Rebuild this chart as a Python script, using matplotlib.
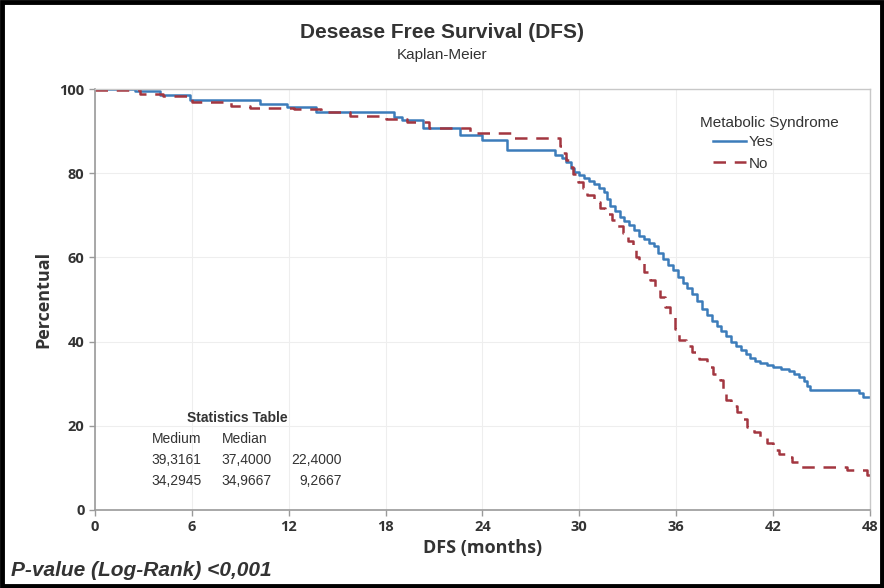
import matplotlib
matplotlib.use("Agg")
import matplotlib.pyplot as plt
from matplotlib.patches import Rectangle

# Kaplan-Meier step estimates (months, % disease free)
yes_t = [0, 2.5, 4.0, 5.9, 10.2, 11.9, 13.7, 18.5, 19.0, 20.3, 22.6, 24.0, 25.5,
         28.5, 28.9, 29.2, 29.5, 29.7, 30.0, 30.3, 30.6, 30.9, 31.2, 31.5, 31.7,
         31.9, 32.2, 32.5, 32.8, 33.1, 33.4, 33.7, 34.0, 34.3, 34.6, 34.9, 35.2,
         35.5, 35.8, 36.1, 36.4, 36.7, 37.0, 37.3, 37.6, 37.9, 38.2, 38.5, 38.8,
         39.1, 39.4, 39.7, 40.0, 40.3, 40.6, 40.9, 41.2, 41.6, 42.0, 42.5, 43.0,
         43.3, 43.6, 43.9, 44.1, 44.3, 47.3, 47.6, 48.0]
yes_s = [100, 99.5, 98.5, 97.4, 96.4, 95.7, 94.5, 93.4, 92.6, 90.7, 89.0, 87.9, 85.5,
         84.3, 83.6, 82.7, 81.2, 80.3, 79.6, 78.9, 78.2, 77.4, 76.6, 75.6, 73.8,
         72.2, 71.0, 69.6, 68.6, 67.6, 66.5, 65.0, 64.3, 63.5, 62.6, 61.0, 59.6,
         58.3, 57.0, 55.4, 53.9, 52.7, 51.4, 49.6, 47.8, 46.3, 44.9, 43.8, 42.6,
         41.3, 40.0, 38.9, 37.9, 37.0, 36.2, 35.5, 35.0, 34.5, 34.0, 33.6, 33.0,
         32.3, 31.5, 30.6, 29.5, 28.5, 27.7, 26.8, 26.8]

no_t = [0, 2.8, 4.2, 6.0, 8.4, 9.6, 12.3, 14.0, 15.8, 18.0, 19.3, 20.7, 23.2,
        25.9, 28.8, 29.0, 29.2, 29.4, 29.6, 29.9, 30.2, 30.5, 30.9, 31.3, 31.6,
        32.0, 32.3, 32.7, 33.0, 33.3, 33.5, 33.7, 34.0, 34.4, 34.7, 35.0, 35.3,
        35.6, 35.9, 36.2, 36.6, 37.0, 37.4, 37.9, 38.3, 38.7, 38.9, 39.1, 39.4,
        39.8, 40.1, 40.4, 40.8, 41.2, 41.6, 42.0, 42.4, 42.8, 43.2, 43.7, 46.6,
        47.8, 48.0]
no_s = [99.7, 98.8, 98.3, 97.0, 95.9, 95.5, 95.2, 94.5, 93.6, 92.9, 92.2, 90.7, 89.5,
        88.4, 86.5, 84.8, 83.2, 81.5, 79.7, 77.9, 76.4, 74.8, 73.2, 71.7, 70.3,
        68.9, 67.4, 65.8, 63.8, 61.8, 60.2, 58.7, 56.6, 54.6, 52.6, 50.6, 48.2,
        45.8, 43.1, 40.4, 38.9, 37.5, 35.8, 34.0, 32.4, 30.9, 28.5, 26.1, 24.7,
        23.3, 21.5, 19.7, 18.5, 17.3, 15.8, 14.3, 13.4, 12.6, 11.4, 10.2, 9.5,
        8.3, 8.3]

x_ticks = [0, 6, 12, 18, 24, 30, 36, 42, 48]
y_ticks = [0, 20, 40, 60, 80, 100]

stats_header = ["Medium", "Median"]
stats_rows = [["39,3161", "37,4000", "22,4000"],
              ["34,2945", "34,9667", "9,2667"]]

TXT = "#333333"
fig = plt.figure(figsize=(8.84, 5.88), dpi=100)
ax = fig.add_axes([0.1075, 0.1327, 0.8765, 0.7159])

ax.step(yes_t, yes_s, where="post", color="#3c7cba", lw=1.8, label="Yes")
ax.step(no_t, no_s, where="post", color="#a33640", lw=1.8,
        dashes=(5, 3.5), label="No")

ax.set_xlim(0, 48)
ax.set_ylim(0, 100)
ax.set_xticks(x_ticks)
ax.set_yticks(y_ticks)
ax.grid(True, color="#eeeeee", lw=0.8)
ax.set_axisbelow(True)
for side in ["top", "right"]:
    ax.spines[side].set_color("#c8c8c8")
    ax.spines[side].set_linewidth(1.0)
for side in ["left", "bottom"]:
    ax.spines[side].set_color("#9a9a9a")
    ax.spines[side].set_linewidth(1.2)
ax.tick_params(colors="#9a9a9a", labelcolor=TXT, length=4, width=1)
for lbl in ax.get_xticklabels() + ax.get_yticklabels():
    lbl.set_fontweight("bold")
    lbl.set_fontsize(10.5)
    lbl.set_family("Open Sans")

ax.set_xlabel("DFS (months)", fontsize=13, fontweight="bold", color=TXT,
              labelpad=3, family="Open Sans")
ax.set_ylabel("Percentual", fontsize=13, fontweight="bold", color=TXT,
              labelpad=5, family="Open Sans")

ax.text(0.781, 0.919, "Metabolic Syndrome", transform=ax.transAxes,
        ha="left", va="center", fontsize=11, color=TXT,
        family="Liberation Sans")
leg = ax.legend(loc="upper left", bbox_to_anchor=(0.797, 0.891),
                frameon=False, borderpad=0, borderaxespad=0,
                prop={"family": "Liberation Sans", "size": 11},
                handlelength=2.2, handletextpad=0.15, labelspacing=0.5)
for t in leg.get_texts():
    t.set_color(TXT)

fig.text(0.5, 0.944, "Desease Free Survival (DFS)", ha="center", va="center",
         fontsize=15, fontweight="bold", color=TXT, family="Liberation Sans")
fig.text(0.5, 0.906, "Kaplan-Meier", ha="center", va="center",
         fontsize=11, color=TXT, family="Liberation Sans")

# statistics table in the lower left of the plot
st = dict(fontsize=10, color=TXT, family="Liberation Sans", va="center")
ax.text(8.8, 21.9, "Statistics Table", ha="center", fontweight="bold", **st)
ax.text(6.6, 16.9, stats_header[0], ha="right", **st)
ax.text(9.3, 16.9, stats_header[1], ha="center", **st)
col_right = [6.6, 10.95, 15.3]
for r, row in enumerate(stats_rows):
    for x, v in zip(col_right, row):
        ax.text(x, 11.9 - r * 5.0, v, ha="right", **st)

fig.text(0.012, 0.030, "P-value (Log-Rank) <0,001", ha="left", va="center",
         fontsize=15, fontweight="bold", style="italic", color=TXT,
         family="Liberation Sans")

fig.patches.append(Rectangle((0.002, 0.003), 0.996, 0.994,
                             transform=fig.transFigure, fill=False,
                             edgecolor="black", lw=3.5))

fig.savefig("out.png", dpi=100)
